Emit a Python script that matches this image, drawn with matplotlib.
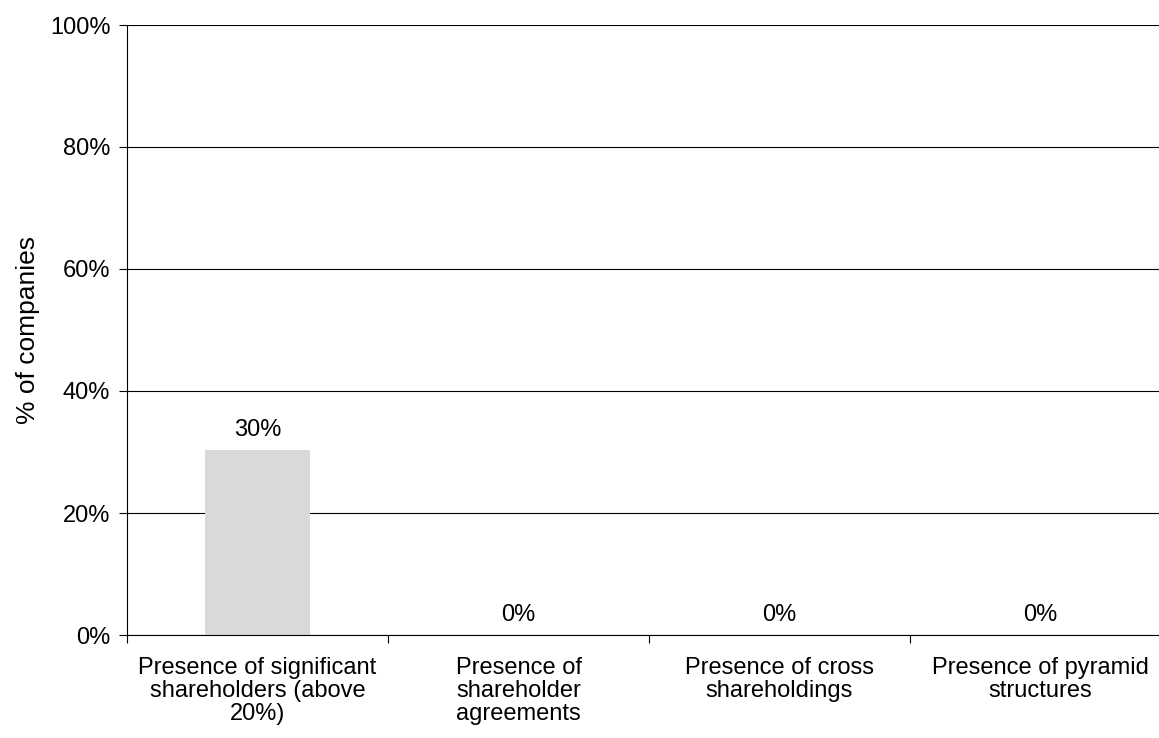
import numpy as np
import matplotlib.pyplot as plt

categories = ['Presence of significant\nshareholders (above\n20%)',
              'Presence of\nshareholder\nagreements',
              'Presence of cross\nshareholdings',
              'Presence of pyramid\nstructures']
values = [30.3, 0, 0, 0]
labels = ['30%', '0%', '0%', '0%']

plt.rcParams['font.family'] = ['Liberation Sans', 'DejaVu Sans']

fig = plt.figure(figsize=(11.59, 7.38), dpi=100)
ax = fig.add_axes([127 / 1159, 1 - 635 / 738, 1044 / 1159, 610 / 738])

x = np.arange(len(categories))
ax.bar(x, values, width=0.4, color='#d9d9d9', zorder=2)
for xi, v, lab in zip(x, values, labels):
    ax.text(xi, v + 1.5, lab, ha='center', va='bottom', fontsize=17, color='black')

ax.set_xlim(-0.5, len(categories) - 0.5)
ax.set_ylim(0, 100)
ax.set_yticks(np.arange(0, 101, 20))
ax.set_yticklabels([f'{t}%' for t in range(0, 101, 20)], fontsize=17)
ax.yaxis.grid(True, color='black', linewidth=0.8, zorder=1)
ax.set_axisbelow(True)

# category boundaries get the tick marks, names sit in between
ax.set_xticks(np.arange(-0.5, len(categories) - 0.5, 1.0))
ax.set_xticklabels([])
ax.set_xticks(x, minor=True)
ax.set_xticklabels(categories, minor=True, fontsize=17, linespacing=1.05)
ax.tick_params(axis='x', which='minor', length=0, pad=16)
ax.tick_params(axis='x', which='major', direction='out', length=6, width=0.8)
ax.tick_params(axis='y', direction='out', length=6, width=0.8, pad=6)

for s in ['top', 'right']:
    ax.spines[s].set_visible(False)
ax.spines['left'].set_linewidth(0.8)
ax.spines['bottom'].set_linewidth(0.8)

ax.set_ylabel('% of companies', fontsize=19, labelpad=7)

fig.savefig('out.png', dpi=100)
